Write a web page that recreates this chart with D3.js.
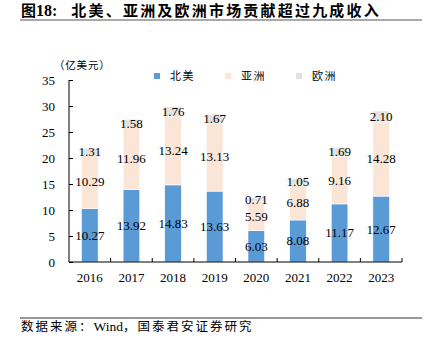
<!DOCTYPE html>
<html><head><meta charset="utf-8">
<script src="https://cdn.jsdelivr.net/npm/d3@7/dist/d3.min.js"></script>
<style>body{margin:0;background:#fff}svg{display:block}</style>
</head><body>
<script>
const years = ["2016","2017","2018","2019","2020","2021","2022","2023"];
const northAmerica = [10.27,13.92,14.83,13.63,6.03,8.08,11.17,12.67];
const asia = [10.29,11.96,13.24,13.13,5.59,6.88,9.16,14.28];
const europe = [1.31,1.58,1.76,1.67,0.71,1.05,1.69,2.10];
const seriesNames = ["北美","亚洲","欧洲"];
const yTicks = [0,5,10,15,20,25,30,35];
const colors = ["#5B9BD5","#FBE5D6","#E2E2E2"];

const W=441,H=340;
const svg=d3.select("body").append("svg").attr("width",W).attr("height",H);
const serif="'Liberation Serif','Times New Roman',serif";
const cjk="'Noto Sans CJK SC',sans-serif";

// title
const t=svg.append("text").attr("x",21).attr("y",16).attr("font-size",15).attr("font-weight","bold").attr("fill","#000");
t.append("tspan").attr("font-family",cjk).text("图");
t.append("tspan").attr("font-family",serif).attr("font-size",16).text("18:");
t.append("tspan").attr("font-family",cjk).attr("dx",14).attr("letter-spacing",2.2).text("北美、亚洲及欧洲市场贡献超过九成收入");
svg.append("line").attr("x1",20).attr("x2",422).attr("y1",20).attr("y2",20).attr("stroke","#8c8c8c").attr("stroke-width",1.5);

const x=d3.scaleBand().domain(years).range([69,402]).paddingInner(0.6).paddingOuter(0.3);
const y=d3.scaleLinear().domain([0,35]).range([262,80]);

const data=years.map((yr,i)=>({year:yr,na:northAmerica[i],asia:asia[i],eu:europe[i]}));
const stack=d3.stack().keys(["na","asia","eu"])(data);

stack.forEach((s,si)=>{
  svg.append("g").selectAll("rect").data(s).join("rect")
    .attr("x",d=>x(d.data.year)).attr("width",x.bandwidth())
    .attr("y",d=>y(d[1])).attr("height",d=>y(d[0])-y(d[1]))
    .attr("fill",colors[si]).attr("stroke","#fff").attr("stroke-width",0.6);
});
stack.forEach((s,si)=>{
  svg.append("g").selectAll("text").data(s).join("text")
    .attr("x",d=>x(d.data.year)+x.bandwidth()/2)
    .attr("y",d=>y((d[0]+d[1])/2)+4.5)
    .attr("text-anchor","middle").attr("font-family",serif).attr("font-size",13).attr("fill","#000")
    .text(d=>(d[1]-d[0]).toFixed(2));
});

// axes
const yAxis=d3.axisLeft(y).tickValues(yTicks).tickSize(-4).tickPadding(14).tickFormat(d3.format("d"));
const gy=svg.append("g").attr("transform","translate(69,0)").call(yAxis);
gy.select(".domain").attr("stroke","#000").attr("d","M0,80V262");
gy.selectAll(".tick line").attr("stroke","#000");
gy.selectAll("text").attr("font-family",serif).attr("font-size",13).attr("fill","#000");

const xb=d3.scaleLinear().domain([0,8]).range([69,402]);
const gx=svg.append("g").attr("transform","translate(0,262)");
gx.append("line").attr("x1",69).attr("x2",402).attr("stroke","#000");
gx.selectAll(".tk").data(d3.range(1,9)).join("line").attr("class","tk")
  .attr("x1",d=>xb(d)).attr("x2",d=>xb(d)).attr("y1",0).attr("y2",-4).attr("stroke","#000");
gx.selectAll(".lb").data(years).join("text").attr("class","lb")
  .attr("x",d=>x(d)+x.bandwidth()/2).attr("y",20).attr("text-anchor","middle")
  .attr("font-family",serif).attr("font-size",13).attr("fill","#000").text(d=>d);

// unit
svg.append("text").attr("x",54).attr("y",69).attr("font-family",cjk).attr("font-size",10.5).attr("letter-spacing",0.8).attr("fill","#000").text("（亿美元）");

// legend
const legX=[154,225,296];
seriesNames.forEach((n,i)=>{
  svg.append("rect").attr("x",legX[i]).attr("y",73).attr("width",6).attr("height",6).attr("fill",colors[i]);
  svg.append("text").attr("x",legX[i]+16).attr("y",80).attr("font-family",cjk).attr("font-size",11).attr("letter-spacing",1.5).attr("fill","#000").text(n);
});

// source
svg.append("line").attr("x1",20).attr("x2",422).attr("y1",318).attr("y2",318).attr("stroke","#333").attr("stroke-width",1);
const s=svg.append("text").attr("x",21).attr("y",331).attr("font-size",12.5).attr("fill","#000");
s.append("tspan").attr("font-family",cjk).attr("letter-spacing",2).text("数据来源：");
s.append("tspan").attr("font-family",serif).attr("font-size",13.5).text("Wind");
s.append("tspan").attr("font-family",cjk).attr("letter-spacing",2).text("，国泰君安证券研究");
</script>
</body></html>
